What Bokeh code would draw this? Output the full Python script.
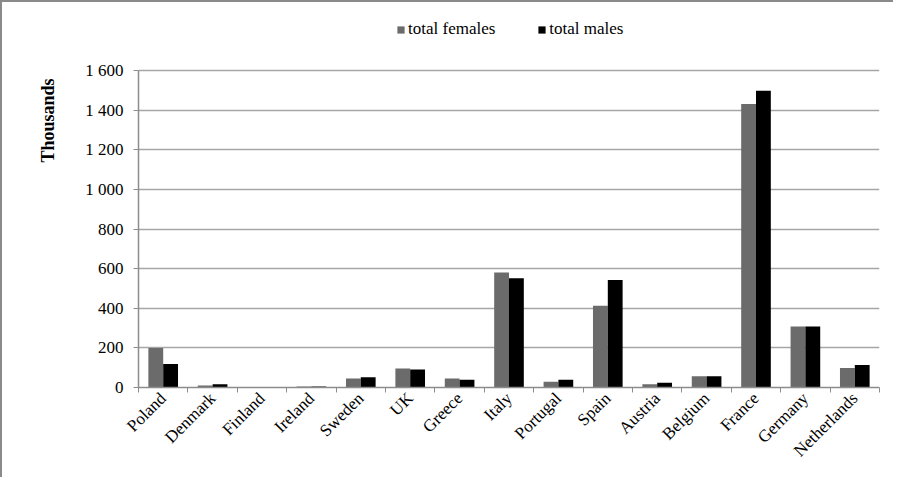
import numpy as np
from bokeh.plotting import figure
from bokeh.models import (ColumnDataSource, Range1d, FixedTicker, Legend, LegendItem)
from bokeh.transform import dodge
from bokeh.embed import file_html
from bokeh.resources import INLINE

countries = ["Poland", "Denmark", "Finland", "Ireland", "Sweden", "UK", "Greece", "Italy",
             "Portugal", "Spain", "Austria", "Belgium", "France", "Germany", "Netherlands"]
females = [199, 10, 0, 5, 45, 96, 45, 581, 29, 412, 17, 57, 1431, 308, 98]
males = [118, 17, 0, 5, 52, 91, 39, 552, 39, 542, 24, 57, 1498, 308, 113]
y_ticks = [0, 200, 400, 600, 800, 1000, 1200, 1400, 1600]
y_tick_labels = ["0", "200", "400", "600", "800", "1 000", "1 200", "1 400", "1 600"]
series_names = ["total females", "total males"]
y_title = "Thousands"

FONT = "Liberation Serif"
n = len(countries)
pos = np.arange(n) + 0.5
y_axis_max = y_ticks[-1]
# headroom above the value axis where the legend sits inside the frame
y_view_max = y_axis_max * 372 / 317

src = ColumnDataSource(dict(pos=pos, females=females, males=males))

p = figure(width=893, height=477, output_backend="svg", toolbar_location=None,
           x_range=Range1d(0, n), y_range=Range1d(0, y_view_max),
           min_border_left=136, min_border_right=16, min_border_top=13, min_border_bottom=92)
p.outline_line_color = None
p.background_fill_color = "white"
p.border_fill_color = "white"
p.styles = {"border-left": "2px solid #8a8a8a", "border-top": "2px solid #8a8a8a",
            "box-sizing": "border-box"}

rf = p.vbar(x=dodge("pos", -0.15, range=p.x_range), top="females", width=0.3, source=src,
            fill_color="#6b6b6b", line_color=None)
rm = p.vbar(x=dodge("pos", 0.15, range=p.x_range), top="males", width=0.3, source=src,
            fill_color="#000000", line_color=None)

# x axis
xa = p.xaxis[0]
xa.ticker = FixedTicker(ticks=list(pos), minor_ticks=list(range(n + 1)))
xa.major_label_overrides = {float(v): c for v, c in zip(pos, countries)}
xa.major_label_orientation = np.pi / 4
xa.major_tick_out = 0
xa.major_tick_in = 0
xa.minor_tick_out = 5
xa.minor_tick_in = 0
xa.minor_tick_line_color = "#8c8c8c"
xa.axis_line_color = "#8c8c8c"
xa.axis_line_width = 1.5
xa.major_label_text_font = FONT
xa.major_label_text_font_size = "17px"
xa.major_label_text_color = "#000000"
xa.major_label_standoff = 3
p.xgrid.grid_line_color = None

# y axis
ya = p.yaxis[0]
ya.bounds = (0, y_axis_max)
ya.ticker = FixedTicker(ticks=y_ticks)
ya.major_label_overrides = {v: l for v, l in zip(y_ticks, y_tick_labels)}
ya.minor_tick_line_color = None
ya.major_tick_out = 5
ya.major_tick_in = 0
ya.major_tick_line_color = "#8c8c8c"
ya.axis_line_color = "#8c8c8c"
ya.axis_line_width = 1.5
ya.major_label_text_font = FONT
ya.major_label_text_font_size = "17px"
ya.major_label_text_color = "#000000"
ya.major_label_standoff = 10
# leading no-break spaces lift the (centred) title toward the top of the axis
ya.axis_label = "\u00a0" * 36 + y_title
ya.axis_label_text_font = FONT
ya.axis_label_text_font_size = "18px"
ya.axis_label_text_font_style = "bold"
ya.axis_label_text_color = "#000000"
ya.axis_label_standoff = 24
p.ygrid.grid_line_color = "#a6a6a6"
p.ygrid.grid_line_width = 1.5

legend = Legend(items=[LegendItem(label=series_names[0], renderers=[rf]),
                       LegendItem(label=series_names[1], renderers=[rm])],
                orientation="horizontal", location=(258, 348))
legend.padding = 0
legend.margin = 0
legend.spacing = 42
legend.glyph_width = 9
legend.glyph_height = 9
legend.label_standoff = 3
legend.label_text_font = FONT
legend.label_text_font_size = "17px"
legend.label_text_color = "#000000"
legend.background_fill_alpha = 0
legend.border_line_color = None
p.add_layout(legend, "center")

open("out.html", "w").write(file_html(p, INLINE))
